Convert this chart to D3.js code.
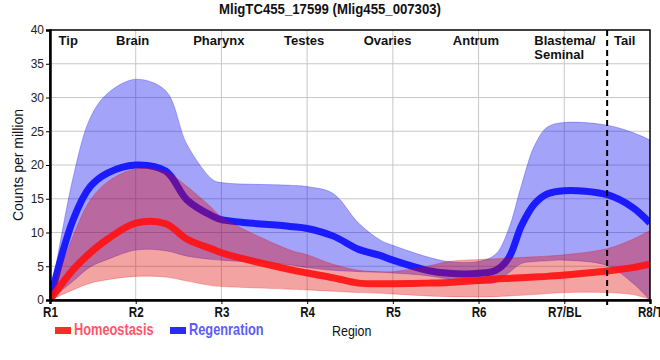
<!DOCTYPE html>
<html>
<head>
  <meta charset="utf-8" />
  <title>MligTC455_17599</title>
  <style>
    body { margin: 0; background: #ffffff; }
    text { font-family: 'Liberation Sans', Arial, sans-serif; }
  </style>
  <script src="https://cdnjs.cloudflare.com/ajax/libs/d3/7.8.5/d3.min.js"></script>
</head>
<body>
<div id="chart"></div>
<script>
  // tick categories along the body
  var ticks = ["R1", "R2", "R3", "R4", "R5", "R6", "R7/BL", "R8/T"];
  // region names and where they sit (in tick units)
  var regions = [["Tip"], ["Brain"], ["Pharynx"], ["Testes"], ["Ovaries"], ["Antrum"], ["Blastema/", "Seminal"], ["Tail"]];
  var regionPos = [0.1, 0.77, 1.67, 2.73, 3.66, 4.7, 5.65, 6.58];
  var tailCut = 6.5;

  // sample positions (tick units)
  var pos = [0, 0.27, 0.47, 0.67, 1.0, 1.35, 1.6, 1.9, 2.0, 2.8, 3.0, 3.3, 3.6, 3.85, 4.0, 4.4, 4.65, 5.0, 5.2, 5.35, 5.5, 5.65, 5.8, 6.0, 6.5, 6.8, 7.0];

  // Regenration: mean and band
  var regMean = [0, 11.9, 16.8, 18.8, 20.0, 19.1, 14.8, 12.4, 11.9, 10.9, 10.6, 9.5, 7.5, 6.6, 5.9, 4.4, 3.95, 3.95, 4.4, 6.2, 11.0, 14.2, 15.7, 16.2, 15.6, 13.7, 11.4];
  var regHigh = [0, 18.2, 27.0, 30.6, 32.7, 31.0, 23.0, 17.8, 17.4, 17.0, 16.8, 15.8, 11.4, 8.9, 8.1, 6.4, 5.7, 5.7, 6.8, 10.5, 17.0, 22.8, 25.6, 26.3, 25.9, 24.8, 23.7];
  var regLow  = [0, 2.8, 4.9, 6.0, 7.4, 7.3, 6.5, 6.0, 5.9, 5.2, 4.8, 4.4, 4.2, 4.1, 4.0, 3.6, 3.1, 2.5, 2.6, 4.0, 5.4, 5.7, 5.8, 5.9, 5.1, 2.5, 0];

  // Homeostasis: mean and band
  var homMean = [0, 4.5, 7.0, 9.0, 11.4, 11.3, 9.0, 7.5, 7.0, 4.5, 4.0, 3.3, 2.5, 2.4, 2.4, 2.5, 2.6, 2.9, 3.1, 3.2, 3.3, 3.4, 3.5, 3.7, 4.3, 4.8, 5.3];
  var homHigh = [0, 9.5, 14.8, 17.5, 19.4, 19.0, 16.8, 13.5, 12.3, 7.4, 6.7, 5.3, 4.4, 4.2, 4.2, 5.0, 5.7, 6.0, 6.1, 6.2, 6.3, 6.4, 6.5, 6.7, 7.6, 9.0, 10.3];
  var homLow  = [0, 1.5, 2.5, 3.0, 3.5, 3.4, 2.8, 2.1, 2.0, 1.6, 1.5, 1.3, 1.1, 1.0, 0.9, 0.6, 0.5, 0.45, 0.5, 0.6, 0.7, 0.8, 0.95, 1.1, 1.1, 0.8, 0.1];

  var yTicks = [0, 5, 10, 15, 20, 25, 30, 35, 40];

  var W = 660, H = 360;
  var margin = { top: 30, right: 10, bottom: 60, left: 50 };
  var width = W - margin.left - margin.right,
      height = H - margin.top - margin.bottom;

  var x = d3.scaleLinear().domain([0, ticks.length - 1]).range([0, width]);
  var y = d3.scaleLinear().domain([0, 40]).range([height, 0]);

  var svg = d3.select("#chart").append("svg")
    .attr("width", W).attr("height", H);

  // no condensed face installed, so squeeze the regular one
  function narrowText(parent, px, py, k, str) {
    return parent.append("g").attr("transform", "translate(" + px + "," + py + ")")
      .append("text").attr("transform", "scale(" + k + ",1)").text(str);
  }

  narrowText(svg, W / 2, 14, 0.88, "MligTC455_17599 (Mlig455_007303)")
    .attr("text-anchor", "middle")
    .attr("font-size", "15px").attr("font-weight", "bold").attr("fill", "#111");

  var g = svg.append("g").attr("transform", "translate(" + margin.left + "," + margin.top + ")");

  g.append("clipPath").attr("id", "clip")
    .append("rect").attr("width", width).attr("height", height);

  // grid
  g.append("g")
    .selectAll("line").data(yTicks.slice(1, -1)).enter().append("line")
    .attr("x1", 0).attr("x2", width)
    .attr("y1", function (d) { return y(d); }).attr("y2", function (d) { return y(d); })
    .attr("stroke", "#c8c8c8").attr("stroke-width", 1);
  g.append("g")
    .selectAll("line").data(d3.range(1, ticks.length - 1)).enter().append("line")
    .attr("y1", 0).attr("y2", height)
    .attr("x1", function (d) { return x(d); }).attr("x2", function (d) { return x(d); })
    .attr("stroke", "#c8c8c8").attr("stroke-width", 1);

  var pts = function (arr) { return arr.map(function (v, i) { return [pos[i], v]; }); };
  var bandPts = function (lo, hi) { return lo.map(function (v, i) { return [pos[i], v, hi[i]]; }); };

  var curve = d3.curveCatmullRom.alpha(0.5);
  var line = d3.line().curve(curve)
    .x(function (d) { return x(d[0]); }).y(function (d) { return y(d[1]); });
  var area = d3.area().curve(curve)
    .x(function (d) { return x(d[0]); })
    .y0(function (d) { return y(d[1]); }).y1(function (d) { return y(d[2]); });

  var plot = g.append("g").attr("clip-path", "url(#clip)");

  function drawBand(lo, hi, col) {
    plot.append("path").datum(bandPts(lo, hi))
      .attr("d", area)
      .attr("fill", col).attr("fill-opacity", 0.36)
      .attr("stroke", col).attr("stroke-opacity", 0.25).attr("stroke-width", 1);
  }
  function drawLine(arr, col, op) {
    plot.append("path").datum(pts(arr))
      .attr("d", line)
      .attr("fill", "none").attr("stroke", col).attr("stroke-opacity", op)
      .attr("stroke-width", 7);
  }

  drawBand(regLow, regHigh, "rgb(0,0,240)");
  drawLine(regMean, "#1414ff", 0.95);
  drawBand(homLow, homHigh, "rgb(224,0,0)");
  drawLine(homMean, "#ff1010", 0.9);

  // region labels
  regions.forEach(function (lines, i) {
    var t = g.append("text")
      .attr("x", x(regionPos[i])).attr("y", 15)
      .attr("font-size", "13px").attr("font-weight", "bold").attr("fill", "#111");
    lines.forEach(function (s, j) {
      t.append("tspan").attr("x", x(regionPos[i])).attr("dy", j === 0 ? 0 : 14).text(s);
    });
  });

  // dashed tail boundary
  g.append("line")
    .attr("x1", x(tailCut)).attr("x2", x(tailCut))
    .attr("y1", 0).attr("y2", height + 5)
    .attr("stroke", "#000").attr("stroke-width", 2).attr("stroke-dasharray", "6,4");

  // frame
  g.append("rect").attr("width", width).attr("height", height)
    .attr("fill", "none").attr("stroke", "#000").attr("stroke-width", 1.5);

  // axes
  var yAxis = g.append("g").call(d3.axisLeft(y).tickValues(yTicks).tickSize(4).tickPadding(2));
  yAxis.select(".domain").attr("stroke-width", 2.5);
  yAxis.selectAll("text").attr("font-family", null).attr("font-size", "12px").attr("fill", "#222");

  var xAxis = g.append("g").attr("transform", "translate(0," + height + ")")
    .call(d3.axisBottom(x).tickValues(d3.range(ticks.length)).tickFormat(function (d) { return ticks[d]; }).tickSize(4).tickPadding(3));
  xAxis.attr("font-family", null);
  yAxis.attr("font-family", null);
  xAxis.select(".domain").attr("stroke-width", 2.5);
  xAxis.selectAll("text").attr("transform", "scale(0.83,1)")
    .attr("font-size", "14px").attr("font-weight", "bold").attr("fill", "#111");

  svg.append("text")
    .attr("transform", "translate(23," + (margin.top + height / 2) + ") rotate(-90)")
    .attr("text-anchor", "middle").attr("font-size", "14px").attr("fill", "#111")
    .text("Counts per million");

  // legend
  var legend = [["Homeostasis", "#ff2a2a", "#ff5566", 55], ["Regenration", "#2a2aff", "#5c5cff", 170]];
  legend.forEach(function (d) {
    svg.append("rect").attr("x", d[3]).attr("y", 327).attr("width", 16).attr("height", 7).attr("fill", d[1]);
    narrowText(svg, d[3] + 19, 335, 0.8, d[0])
      .attr("font-size", "16px").attr("font-weight", "bold").attr("fill", d[2]);
  });
  narrowText(svg, 332, 336, 0.83, "Region")
    .attr("font-size", "15px").attr("fill", "#111");
</script>
</body>
</html>
